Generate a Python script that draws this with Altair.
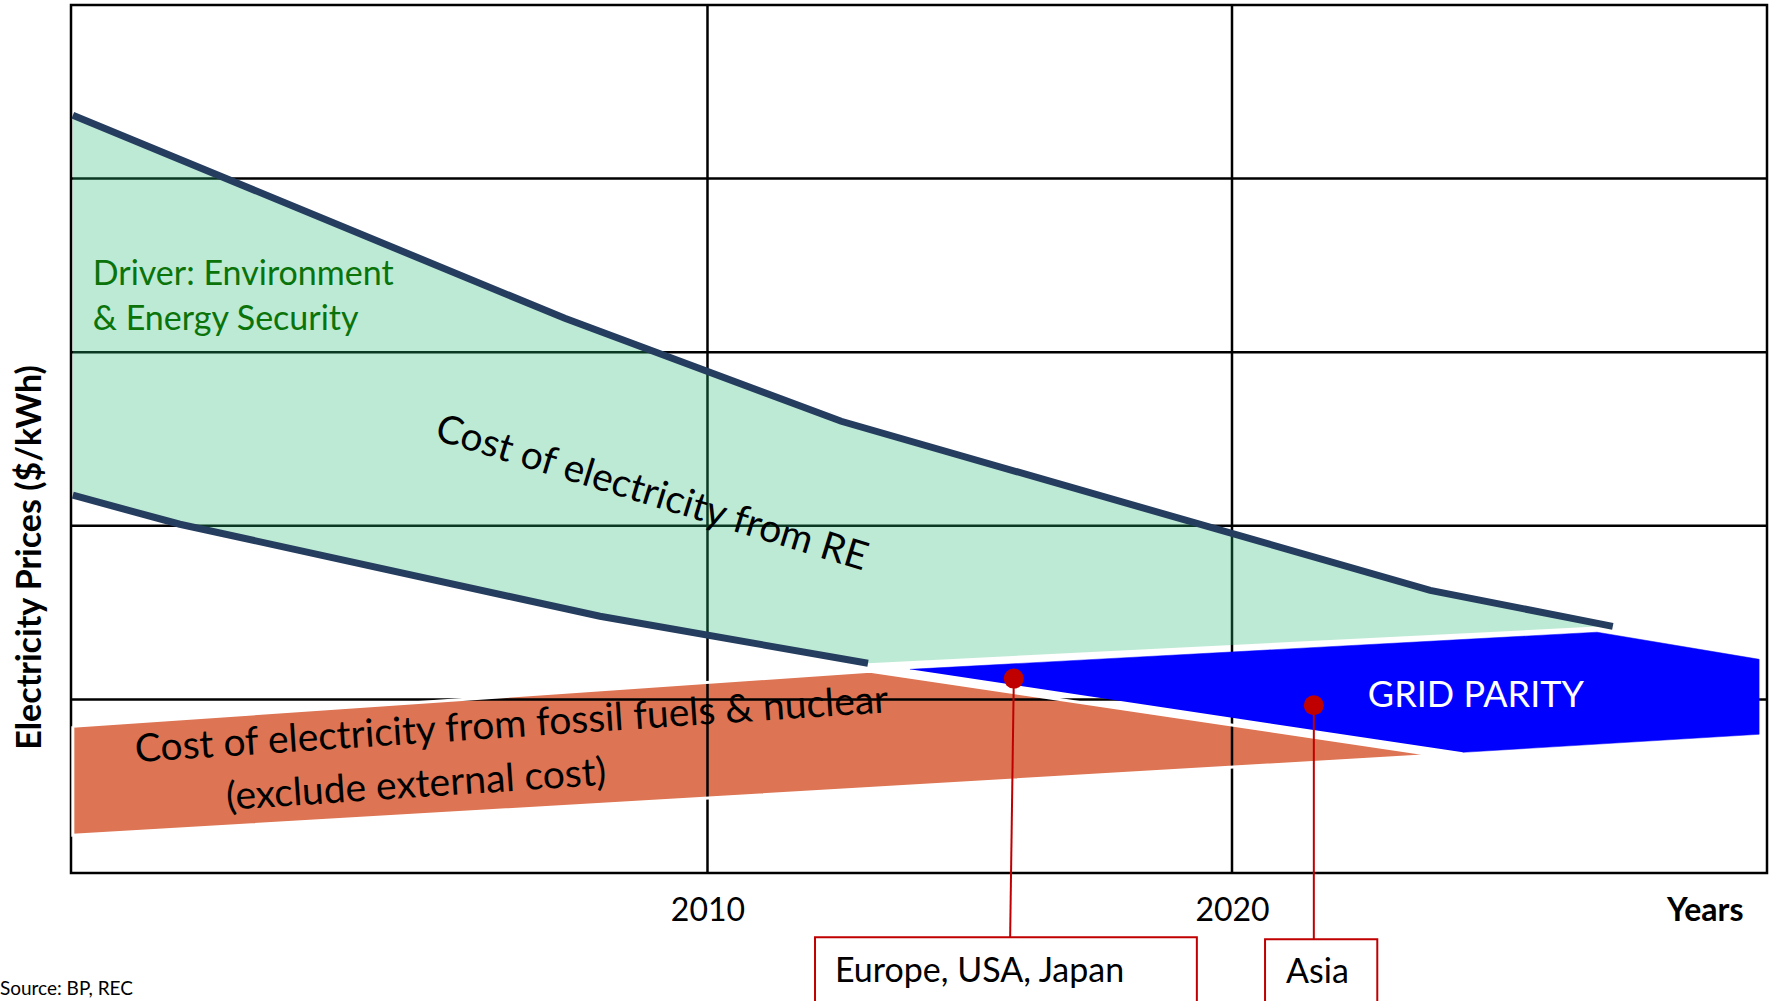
import altair as alt
import pandas as pd

# ---------------- values ----------------
# x = year, y = electricity price (relative units, gridlines at 1..4)
tick_years = [2010, 2020]
grid_years = [2010, 2020]
grid_levels = [1, 2, 3, 4]

# RE cost band (green), outline vertices in drawing order
re_band_year = [1997.90, 2007.28, 2012.55, 2023.78, 2027.05, 2013.06, 2007.95, 1999.94, 1997.90]
re_band_price = [4.365, 3.195, 2.602, 1.628, 1.421, 1.208, 1.479, 2.009, 2.176]

# RE cost boundary lines (navy)
re_upper_year = [1997.90, 2007.28, 2012.55, 2023.78, 2027.26]
re_upper_price = [4.365, 3.195, 2.602, 1.628, 1.421]
re_lower_year = [1997.90, 1999.94, 2007.95, 2013.06]
re_lower_price = [2.176, 2.009, 1.479, 1.208]

# Fossil & nuclear cost band (orange)
fossil_year = [1997.90, 2013.10, 2023.87, 1997.90]
fossil_price = [0.845, 1.162, 0.678, 0.218]

# Grid parity zone (blue)
parity_year = [2013.86, 2026.96, 2030.05, 2030.05, 2024.40]
parity_price = [1.173, 1.387, 1.231, 0.799, 0.695]

# Grid parity reached (red markers) and their callouts
region_names = ["Europe, USA, Japan", "Asia"]
region_year = [2015.84, 2021.56]
region_price = [1.12, 0.966]
callout_year = [2015.77, 2021.56]
box_left = [2012.05, 2020.63]
box_right = [2019.33, 2022.77]
box_top = [-0.370, -0.382]
box_bottom = [-0.80, -0.80]
box_text_year = [2012.43, 2021.03]
box_text_price = [-0.630, -0.635]

# Text annotations
driver_lines = ["Driver: Environment", "& Energy Security"]
driver_year = [1998.28, 1998.28]
driver_price = [3.385, 3.126]
re_label = ["Cost of electricity from RE"]
re_label_year = [2008.87]
re_label_price = [2.12]
fossil_lines = ["Cost of electricity from fossil fuels & nuclear", "(exclude external cost)"]
fossil_label_year = [2006.28, 2004.46]
fossil_label_price = [0.782, 0.436]
parity_label = ["GRID PARITY"]
parity_label_year = [2024.65]
parity_label_price = [0.954]
source_text = ["Source: BP, REC"]
source_year = [1996.51]
source_price = [-0.7045]

X_DOMAIN = [1997.865, 2030.2]
Y_DOMAIN = [0, 5]
FONT = "Lato"


def polygon(years, prices, close=False):
    df = pd.DataFrame({"year": years, "price": prices})
    df["i"] = range(len(df))
    if close:
        first = df.iloc[[0]].copy()
        first["i"] = len(df)
        df = pd.concat([df, first], ignore_index=True)
    return df


def xenc(field="year"):
    return alt.X(
        f"{field}:Q",
        scale=alt.Scale(domain=X_DOMAIN, nice=False, zero=False),
        axis=alt.Axis(
            values=tick_years, format="d", title="Years", grid=False, domain=False,
            ticks=False, tickSize=0, labelFont=FONT, labelFontSize=32, labelColor="black",
            labelPadding=47, labelBaseline="alphabetic", labelFlush=False, labelOverlap=False,
            titleFont=FONT, titleFontSize=32, titleFontWeight="bold", titleColor="black",
            titleX=1672, titleY=47, titleAlign="right", titleBaseline="alphabetic",
        ),
    )


def yenc(field="price"):
    return alt.Y(
        f"{field}:Q",
        scale=alt.Scale(domain=Y_DOMAIN, nice=False, zero=False),
        axis=alt.Axis(
            title="Electricity Prices ($/kWh)", labels=False, ticks=False, domain=False,
            grid=False, titleX=-31, titleY=552, titleAngle=270, titleAlign="center",
            titleBaseline="alphabetic", titleFont=FONT, titleFontSize=34,
            titleFontWeight="bold", titleColor="black",
        ),
    )


fossil_df = polygon(fossil_year, fossil_price, close=True)
green_df = polygon(re_band_year, re_band_price)
upper_df = polygon(re_upper_year, re_upper_price)
lower_df = polygon(re_lower_year, re_lower_price)
parity_df = polygon(parity_year, parity_price)

fossil_fill = alt.Chart(fossil_df).mark_line(
    fill="#DD7453", stroke="#DD7453", strokeWidth=0.5
).encode(x=xenc(), y=yenc(), order=alt.Order("i:Q"))

hgrid = alt.Chart(pd.DataFrame({"price": grid_levels})).mark_rule(
    color="black", strokeWidth=2.5
).encode(y=yenc())
vgrid = alt.Chart(pd.DataFrame({"year": grid_years})).mark_rule(
    color="black", strokeWidth=2.5
).encode(x=xenc())

fossil_edge = alt.Chart(fossil_df).mark_line(
    stroke="white", strokeWidth=3
).encode(x=xenc(), y=yenc(), order=alt.Order("i:Q"))

green_fill = alt.Chart(green_df).mark_line(
    fill="#26B970", fillOpacity=0.3, strokeWidth=0, strokeOpacity=0
).encode(x=xenc(), y=yenc(), order=alt.Order("i:Q"))

upper_line = alt.Chart(upper_df).mark_line(
    color="#253D5E", strokeWidth=7
).encode(x=xenc(), y=yenc(), order=alt.Order("i:Q"))
lower_line = alt.Chart(lower_df).mark_line(
    color="#253D5E", strokeWidth=7
).encode(x=xenc(), y=yenc(), order=alt.Order("i:Q"))

parity_fill = alt.Chart(parity_df).mark_line(
    fill="#0000FF", stroke="#0000FF", strokeWidth=0.5
).encode(x=xenc(), y=yenc(), order=alt.Order("i:Q"))

# callouts
conn_rows = []
for n, y0, p0, y1, bt in zip(region_names, region_year, region_price, callout_year, box_top):
    conn_rows.append({"name": n, "year": y0, "price": p0, "i": 0})
    conn_rows.append({"name": n, "year": y1, "price": bt, "i": 1})
conn_df = pd.DataFrame(conn_rows)
connectors = alt.Chart(conn_df).mark_line(color="#C00000", strokeWidth=2).encode(
    x=xenc(), y=yenc(), detail="name:N", order=alt.Order("i:Q")
)

boxes_df = pd.DataFrame({"name": region_names, "x1": box_left, "x2": box_right,
                         "y1": box_top, "y2": box_bottom})
boxes = alt.Chart(boxes_df).mark_rect(fill="white", stroke="#C00000", strokeWidth=2).encode(
    x=xenc("x1"), x2="x2:Q", y=yenc("y1"), y2="y2:Q"
)

dots = alt.Chart(pd.DataFrame({"year": region_year, "price": region_price})).mark_circle(
    color="#C00000", size=400, opacity=1
).encode(x=xenc(), y=yenc())

box_text = alt.Chart(pd.DataFrame({"t": region_names, "year": box_text_year,
                                   "price": box_text_price})).mark_text(
    align="left", baseline="alphabetic", font=FONT, fontSize=34, color="black"
).encode(x=xenc(), y=yenc(), text="t:N")

driver = alt.Chart(pd.DataFrame({"t": driver_lines, "year": driver_year,
                                 "price": driver_price})).mark_text(
    align="left", baseline="alphabetic", font=FONT, fontSize=34, color="#0A730A"
).encode(x=xenc(), y=yenc(), text="t:N")

re_text = alt.Chart(pd.DataFrame({"t": re_label, "year": re_label_year,
                                  "price": re_label_price})).mark_text(
    align="center", baseline="alphabetic", font=FONT, fontSize=39, color="black", angle=17
).encode(x=xenc(), y=yenc(), text="t:N")

fossil_text = alt.Chart(pd.DataFrame({"t": fossil_lines, "year": fossil_label_year,
                                      "price": fossil_label_price})).mark_text(
    align="center", baseline="alphabetic", font=FONT, fontSize=39, color="black", angle=356.2
).encode(x=xenc(), y=yenc(), text="t:N")

parity_text = alt.Chart(pd.DataFrame({"t": parity_label, "year": parity_label_year,
                                      "price": parity_label_price})).mark_text(
    align="center", baseline="alphabetic", font=FONT, fontSize=36, color="white"
).encode(x=xenc(), y=yenc(), text="t:N")

source = alt.Chart(pd.DataFrame({"t": source_text, "year": source_year,
                                 "price": source_price})).mark_text(
    align="left", baseline="alphabetic", font=FONT, fontSize=19, color="black"
).encode(x=xenc(), y=yenc(), text="t:N")

chart = alt.layer(
    fossil_fill, hgrid, vgrid, fossil_edge, green_fill, upper_line, lower_line,
    parity_fill, connectors, boxes, dots, box_text, driver, re_text, fossil_text,
    parity_text, source,
).properties(
    width=1696, height=868,
    autosize=alt.AutoSizeParams(type="none"),
    padding={"left": 71, "top": 5, "right": 6, "bottom": 128},
    background="white",
).configure_view(stroke="black", strokeWidth=2.5)

chart.save("out.html", embed_options={"renderer": "svg", "actions": False})
